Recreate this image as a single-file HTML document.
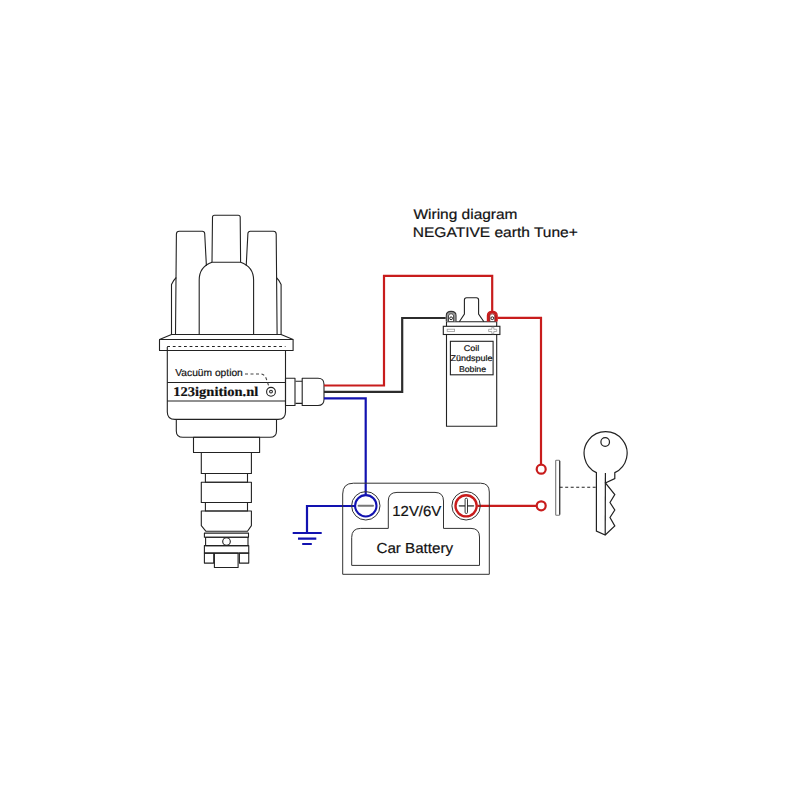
<!DOCTYPE html>
<html><head><meta charset="utf-8">
<style>
html,body{margin:0;padding:0;background:#fff;width:800px;height:800px;overflow:hidden}
svg{display:block}
text{text-rendering:geometricPrecision;font-family:"Liberation Sans",sans-serif;stroke:#111;stroke-width:0.2px}
</style></head>
<body>
<svg width="800" height="800" viewBox="0 0 800 800">
<rect width="800" height="800" fill="#fff"/>

<!-- Title -->
<text x="413.5" y="218.7" font-size="14" fill="#111" textLength="104" lengthAdjust="spacingAndGlyphs">Wiring diagram</text>
<text x="412.8" y="236.8" font-size="14" fill="#111" textLength="165" lengthAdjust="spacingAndGlyphs">NEGATIVE earth Tune+</text>

<!-- ===== Distributor ===== -->
<g fill="none" stroke="#222" stroke-width="1.1" stroke-linejoin="round">
  <!-- towers -->
  <path d="M175.5,334.5 L176.4,234 Q176.6,231.3 179.2,231.3 L202.3,231.3 Q204.5,231.3 204.7,233.5 L206.4,265.9"/>
  <path d="M176.3,277.5 Q173.5,280 171.5,284.5 L171.5,334.5"/>
  <path d="M212,262.2 L212.5,217.3 Q212.5,215.3 214.5,215.3 L238.2,215.3 Q240.2,215.3 240.2,217.3 L240.6,262.2"/>
  <path d="M199.2,334.5 L199.2,280 C199.2,271 204,265 212,262.2 L240.6,262.2 C248.6,265 253.6,271 253.6,280 L253.6,334.5"/>
  <path d="M277.1,334.5 L276.2,234 Q276,231.3 273.4,231.3 L250.3,231.3 Q248.1,231.3 247.9,233.5 L246.2,265.9"/>
  <path d="M276.3,277.5 Q279.1,280 281.1,284.5 L281.1,334.5"/>
  <!-- cap base -->
  <path d="M171.5,334.5 L281.1,334.5 L293.1,339.5 L293.1,350.5 L159.5,350.5 L159.5,339.5 Z"/>
  <path d="M159.5,339.5 L293.1,339.5"/>
  <!-- body -->
  <path d="M167.2,346.5 L285.5,346.5" stroke-dasharray="2.8,2.8"/>
  <path d="M167.3,347 L167.3,412 Q167.3,419.4 175,419.4 L278,419.4 Q285.5,419.4 285.5,412 L285.5,350.6"/>
  <path d="M167.3,382.5 L285.5,382.5"/>
  <path d="M167.2,401 L285.5,401"/>
  <!-- tier2 -->
  <path d="M176.3,419.4 L176.3,431 Q176.3,437.3 183,437.3 L270,437.3 Q276.5,437.3 276.5,431 L276.5,419.4"/>
  <rect x="193.5" y="437.3" width="66.1" height="15.2"/>
  <rect x="201.3" y="452.5" width="50.1" height="21"/>
  <rect x="205.4" y="473.5" width="42.1" height="8.75"/>
  <rect x="201.3" y="482.25" width="50.1" height="20.25"/>
  <rect x="205.4" y="502.5" width="42.1" height="8.5"/>
  <path d="M201.3,511 L251.4,511 L251.4,525.6 L247.5,531.3 L206,531.3 L201.3,525.6 Z"/>
  <rect x="204.4" y="533.1" width="44.1" height="4.15"/>
  <rect x="205.6" y="537.25" width="42.4" height="8.35"/>
  <circle cx="226.5" cy="541.5" r="3.8"/>
  <rect x="204.4" y="545.6" width="44.35" height="7.5"/>
  <rect x="204.4" y="553.1" width="9.35" height="10"/>
  <rect x="239.4" y="553.1" width="9.35" height="10"/>
  <rect x="214.4" y="553.1" width="23.7" height="14.4"/>
  <!-- connector -->
  <rect x="285.5" y="378.3" width="9.5" height="27.2"/>
  <path d="M295.5,381.3 L302.2,381.3 M295.5,403.4 L302.2,403.4"/>
  <path d="M302.2,378.3 L318,378.3 Q324,378.3 324,384.3 L324,399.5 Q324,405.5 318,405.5 L302.2,405.5 Z"/>
  <!-- vacuum -->
  <circle cx="271" cy="391.8" r="4.4"/>
  <circle cx="271" cy="391.6" r="1.4"/>
  <path d="M245,374 L261.5,374 Q264.5,374.5 266,378 L269.2,387.3" stroke-dasharray="3,2.5" stroke="#444"/>
</g>
<text x="175.3" y="375.8" font-size="10.2" fill="#111" textLength="67.5" lengthAdjust="spacingAndGlyphs">Vacuüm option</text>
<text x="173.3" y="395.9" font-size="13.4" font-weight="bold" fill="#111" stroke="#111" stroke-width="0.35" textLength="85" lengthAdjust="spacingAndGlyphs" style="font-family:'Liberation Serif',serif">123ignition.nl</text>

<!-- ===== Wires ===== -->
<g fill="none" stroke-width="2.2" stroke-linejoin="miter">
  <path d="M324,385.5 L384,385.5 L384,275.9 L492.2,275.9 L492.2,311" stroke="#c81c1c"/>
  <path d="M324,391.9 L402.2,391.9 L402.2,318 L445.7,318" stroke="#2c2c2c"/>
  <path d="M324,398.3 L365.7,398.3 L365.7,494.5" stroke="#1212b0"/>
  <path d="M355,506 L307,506 L307,533" stroke="#1212b0"/>
  <path d="M292.7,533 L321.7,533 M298,538.7 L316.3,538.7 M302.2,544 L311.8,544" stroke="#1212b0"/>
  <path d="M497.5,317.9 L541,317.9 L541,464.3" stroke="#c81c1c"/>
  <path d="M477.5,505.8 L536.7,505.8" stroke="#c81c1c"/>
  <circle cx="541.2" cy="469.2" r="4.5" stroke="#c81c1c"/>
  <circle cx="541.2" cy="505.8" r="4.5" stroke="#c81c1c"/>
</g>

<!-- ===== Coil ===== -->
<g fill="none" stroke="#222" stroke-width="1.1">
  <path d="M459.3,321.8 L464.4,314.1 L464.4,300 Q464.4,297.8 466.6,297.8 L476.4,297.8 Q478.6,297.8 478.6,300 L478.6,314.1 L483.9,321.8"/>
  <path d="M446.5,321.8 L496.7,321.8"/>
  <path d="M446.5,321.8 L446.5,326.3 M496.7,321.8 L496.7,326.3"/>
  <rect x="443.3" y="326.3" width="56.6" height="8.2"/>
  <path d="M446.5,334.5 L446.5,426.3 L496.7,426.3 L496.7,334.5"/>
  <rect x="450.4" y="341.3" width="42.7" height="33.5"/>
  <rect x="447.2" y="329.2" width="7.4" height="2.3" stroke="#999" stroke-width="0.8"/>
  <path d="M488.6,329.3 L491.8,329.3 L491.8,327.3 L493.8,327.3 L493.8,329.3 L496.7,329.3 L496.7,331.5 L493.8,331.5 L493.8,333.7 L491.8,333.7 L491.8,331.5 L488.6,331.5 Z" stroke="#999" stroke-width="0.8"/>
</g>
<g fill="none">
  <path d="M447.5,321.5 L447.5,315.6 Q447.5,312.5 451.1,312.5 Q454.7,312.5 454.7,315.6 L454.7,321.5" stroke="#999" stroke-width="1.8"/>
  <path d="M446.3,321.5 L446.3,315.5 Q446.3,311.4 451.1,311.4 Q456,311.4 456,315.5 L456,321.5" stroke="#333" stroke-width="1.1"/>
  <path d="M448.5,321.5 L448.5,316 Q448.5,313.7 451.1,313.7 Q453.6,313.7 453.6,316 L453.6,321.5" stroke="#333" stroke-width="0.9"/>
  <path d="M488.7,321.5 L488.7,315.6 Q488.7,312.5 492.3,312.5 Q495.9,312.5 495.9,315.6 L495.9,321.5" stroke="#c81c1c" stroke-width="2.2"/>
  <path d="M487.4,321.5 L487.4,315.5 Q487.4,311.4 492.3,311.4 Q497.2,311.4 497.2,315.5 L497.2,321.5" stroke="#c81c1c" stroke-width="1.2"/>
  <path d="M489.8,321.5 L489.8,316 Q489.8,313.9 492.3,313.9 Q494.8,313.9 494.8,316 L494.8,321.5" stroke="#7a1a1a" stroke-width="0.8"/>
</g>
<circle cx="451.1" cy="318.3" r="1.4" fill="#fff" stroke="#222" stroke-width="1"/>
<circle cx="492.3" cy="318.2" r="1.4" fill="#fff" stroke="#222" stroke-width="1"/>
<g font-size="8.3" fill="#111" style="stroke-width:0.15px">
  <text x="463.7" y="351" textLength="15.6" lengthAdjust="spacingAndGlyphs">Coil</text>
  <text x="450.5" y="361.4" textLength="42" lengthAdjust="spacingAndGlyphs">Zündspule</text>
  <text x="458.9" y="372.1" textLength="27.2" lengthAdjust="spacingAndGlyphs">Bobine</text>
</g>

<!-- ===== Battery ===== -->
<g fill="none" stroke="#333" stroke-width="1">
  <path d="M342.7,574.3 L342.7,494 Q342.7,483.2 353.5,483.2 L480.5,483.2 Q489.3,483.2 489.3,492 L489.3,574.3 Z"/>
  <path d="M351.7,565.4 L351.7,537.4 Q351.7,528.4 360.7,528.4 L388.3,528.4 L388.3,501 Q388.3,492.4 397,492.4 L435,492.4 Q443.5,492.4 443.5,501 L443.5,528.4 L471,528.4 Q479.5,528.4 479.5,537 L479.5,565.4 Z"/>
  <circle cx="365.8" cy="505.8" r="14.2" stroke="#333" stroke-width="1"/>
  <circle cx="466.1" cy="505.8" r="14.2" stroke="#333" stroke-width="1"/>
</g>
<circle cx="365.8" cy="505.8" r="10.7" fill="none" stroke="#1212b0" stroke-width="2.1"/>
<circle cx="466.1" cy="505.8" r="10.6" fill="none" stroke="#c81c1c" stroke-width="2.4"/>
<path d="M358.6,505.8 L373,505.8" stroke="#777" stroke-width="2" stroke-linecap="round"/>
<path d="M459.5,505.8 L473.3,505.8" stroke="#666" stroke-width="1.8" stroke-linecap="round"/>
<rect x="465.1" y="498.2" width="2.4" height="15.3" rx="1.2" fill="#fff" stroke="#222" stroke-width="0.9"/>
<text x="392.3" y="516" font-size="14.5" fill="#111" textLength="49" lengthAdjust="spacingAndGlyphs">12V/6V</text>
<text x="376.5" y="552.8" font-size="14.5" fill="#111" textLength="76.5" lengthAdjust="spacingAndGlyphs">Car Battery</text>

<!-- ===== Switch & Key ===== -->
<rect x="555.7" y="460.2" width="4" height="55" rx="0.8" fill="#fff" stroke="#777" stroke-width="1.1"/>
<path d="M559.7,461 L559.7,514.5" stroke="#333" stroke-width="1.1"/>
<path d="M559.7,487.3 L596.5,487.3" stroke="#222" stroke-width="1.1" stroke-dasharray="3,2.5"/>
<g fill="none" stroke="#222" stroke-width="1.2" stroke-linejoin="miter">
  <path d="M596.4,472.6 A21.5,21.5 0 1 1 614.8,472.6 L614.8,478.5 L605.4,483 L614.8,494.5 L610,502.5 L614.8,510 L610,517.5 L614.8,526 L605.2,535 L596.4,531 Z"/>
  <path d="M605.4,473 L605.2,535"/>
  <circle cx="605.2" cy="442" r="4.3"/>
</g>
</svg>
</body></html>
